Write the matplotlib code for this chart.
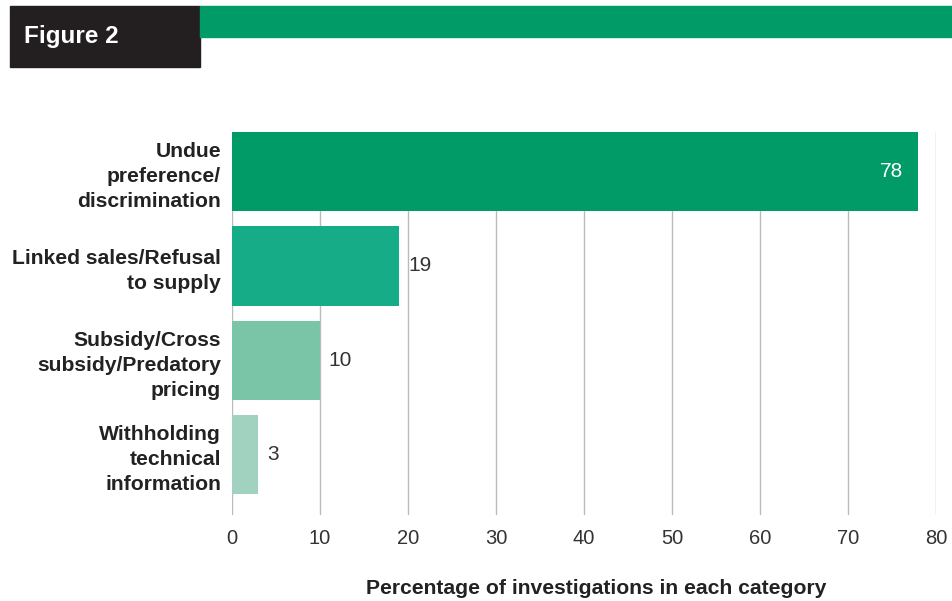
import matplotlib
matplotlib.use("Agg")
import matplotlib.pyplot as plt
from matplotlib.patches import Rectangle

categories = ["Undue\npreference/\ndiscrimination",
              "Linked sales/Refusal\nto supply",
              "Subsidy/Cross\nsubsidy/Predatory\npricing",
              "Withholding\ntechnical\ninformation"]
values = [78, 19, 10, 3]
colors = ["#009B67", "#16AC87", "#7AC4A8", "#A0D2BF"]
xticks = [0, 10, 20, 30, 40, 50, 60, 70, 80]
xlabel = "Percentage of investigations in each category"
title = "Figure 2"

plt.rcParams['font.family'] = ['Liberation Sans', 'DejaVu Sans']

fig = plt.figure(figsize=(9.53, 6.01), dpi=100)
W, H = 953, 601

# header
fig.patches.append(Rectangle((10 / W, 1 - 67 / H), 190 / W, 61 / H,
                             transform=fig.transFigure, color="#231F20", zorder=0))
fig.patches.append(Rectangle((200 / W, 1 - 37 / H), 753 / W, 31 / H,
                             transform=fig.transFigure, color="#009B67", zorder=0))
fig.text(24 / W, 1 - 36 / H, title, color="white", fontsize=17.5, fontweight="bold",
         ha="left", va="center")

ax = fig.add_axes([232 / W, 1 - 515 / H, 704 / W, 383 / H])
y = list(range(len(values)))
ax.barh(y, values, height=0.84, color=colors, zorder=2)
ax.set_xlim(0, 80)
ax.set_ylim(3.64, -0.42)
ax.set_xticks(xticks)
ax.set_xticklabels([str(t) for t in xticks], fontsize=14.5, color="#333333")
ax.set_yticks(y)
ax.set_yticklabels(categories, fontsize=15.2, fontweight="bold", color="#222222",
                   linespacing=1.4)
ax.tick_params(axis="both", length=0)
ax.tick_params(axis="y", pad=8)
ax.tick_params(axis="x", pad=10)
ax.grid(axis="x", color="#BBBBBB", linewidth=1, zorder=0)
ax.set_axisbelow(True)
for s in ax.spines.values():
    s.set_visible(False)

for i, v in enumerate(values):
    if v > 50:
        ax.text(v - 1.7, i, str(v), color="white", fontsize=15, ha="right", va="center")
    else:
        ax.text(v + 1.0, i, str(v), color="#333333", fontsize=15, ha="left", va="center")

fig.text(596 / W, 1 - 588 / H, xlabel, fontsize=15.2, fontweight="bold",
         color="#222222", ha="center", va="center")

fig.savefig("out.png", dpi=100)
